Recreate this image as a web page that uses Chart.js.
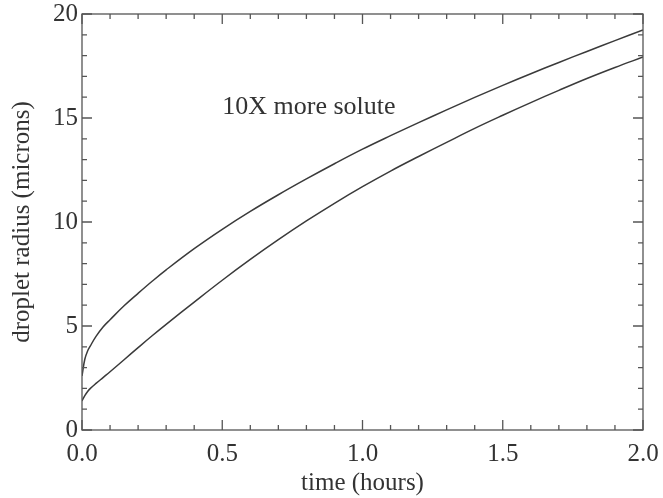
<!DOCTYPE html>
<html>
<head>
<meta charset="utf-8">
<script src="https://cdn.jsdelivr.net/npm/chart.js@4.4.1/dist/chart.umd.min.js"></script>
<style>
  html, body { margin: 0; padding: 0; background: #fff; }
  #wrap { width: 663px; height: 498px; }
</style>
</head>
<body>
<div id="wrap"><canvas id="myChart"></canvas></div>
<script>
// time axis (hours)
const timeHours = [0, 0.01, 0.02, 0.03, 0.05, 0.075, 0.1, 0.15, 0.2, 0.25, 0.3, 0.4, 0.5, 0.6, 0.7, 0.8, 0.9, 1.0,
                   1.1, 1.2, 1.3, 1.4, 1.5, 1.6, 1.7, 1.8, 1.9, 2.0];
// droplet radius (microns)
const moreSolute = [2.6, 3.4, 3.8, 4.05, 4.5, 4.95, 5.3, 5.97, 6.57, 7.15, 7.7, 8.72, 9.65, 10.51, 11.31, 12.07, 12.8, 13.5,
                    14.15, 14.78, 15.39, 15.99, 16.57, 17.13, 17.67, 18.2, 18.72, 19.23];
const baseSolute = [1.4, 1.65, 1.85, 2.0, 2.24, 2.52, 2.8, 3.38, 3.96, 4.53, 5.08, 6.15, 7.2, 8.2, 9.15, 10.05, 10.9, 11.7,
                    12.45, 13.15, 13.83, 14.5, 15.13, 15.74, 16.33, 16.9, 17.43, 17.93];
const xTickLabels = ['0.0', '0.5', '1.0', '1.5', '2.0'];
const yTickLabels = ['0', '5', '10', '15', '20'];
const noteText = '10X more solute';

const ink = '#333';
const serif = '"Liberation Serif", "Times New Roman", serif';

function toPoints(ys) {
    return timeHours.map(function (t, i) { return { x: t, y: ys[i] }; });
}

// ticks pointing into the plot on all four sides, plus the frame and the note
const frameTicks = {
    id: 'frameTicks',
    afterDatasetsDraw(chart) {
        const ctx = chart.ctx;
        const a = chart.chartArea;
        const xs = chart.scales.x, ys = chart.scales.y;
        ctx.save();
        ctx.strokeStyle = '#555';
        ctx.lineWidth = 1.3;
        ctx.strokeRect(a.left, a.top, a.right - a.left, a.bottom - a.top);
        ctx.beginPath();
        for (let i = 0; i <= 20; i++) {
            const v = i / 10;
            const len = (i % 5 === 0) ? 10 : 5;
            const px = xs.getPixelForValue(v);
            ctx.moveTo(px, a.bottom); ctx.lineTo(px, a.bottom - len);
            ctx.moveTo(px, a.top); ctx.lineTo(px, a.top + len);
        }
        for (let i = 0; i <= 20; i++) {
            const len = (i % 5 === 0) ? 10 : 5;
            const py = ys.getPixelForValue(i);
            ctx.moveTo(a.left, py); ctx.lineTo(a.left + len, py);
            ctx.moveTo(a.right, py); ctx.lineTo(a.right - len, py);
        }
        ctx.stroke();

        ctx.fillStyle = ink;
        ctx.font = '26px ' + serif;
        ctx.textAlign = 'left';
        ctx.textBaseline = 'middle';
        ctx.fillText(noteText, xs.getPixelForValue(0.5), ys.getPixelForValue(15.5));
        ctx.restore();
    }
};

const ctx = document.getElementById('myChart');

new Chart(ctx, {
    type: 'line',
    data: {
        datasets: [{
            label: noteText,
            data: toPoints(moreSolute),
            borderColor: '#3a3a3a',
            borderWidth: 1.5,
            pointRadius: 0,
            tension: 0.4
        }, {
            label: 'base',
            data: toPoints(baseSolute),
            borderColor: '#3a3a3a',
            borderWidth: 1.5,
            pointRadius: 0,
            tension: 0.4
        }]
    },
    options: {
        responsive: true,
        maintainAspectRatio: false,
        animation: false,
        layout: { padding: { top: 14, right: 20, left: 0, bottom: 0 } },
        plugins: {
            legend: { display: false },
            tooltip: { enabled: false }
        },
        scales: {
            x: {
                type: 'linear',
                min: 0, max: 2,
                afterFit: function (scale) {
                    scale.height = 68;
                    scale.paddingLeft = 0;
                    scale.paddingRight = 0;
                },
                afterBuildTicks: function (scale) {
                    scale.ticks = xTickLabels.map(function (s) { return { value: parseFloat(s) }; });
                },
                ticks: {
                    color: ink,
                    font: { family: serif, size: 25 },
                    padding: 9,
                    maxRotation: 0,
                    callback: function (v, i) { return xTickLabels[i]; }
                },
                grid: { display: false, drawTicks: false },
                border: { display: false },
                title: {
                    display: true,
                    text: 'time (hours)',
                    color: ink,
                    font: { family: serif, size: 25 },
                    padding: { top: 0, bottom: 0 }
                }
            },
            y: {
                min: 0, max: 20,
                afterFit: function (scale) {
                    scale.width = 82;
                    scale.paddingTop = 0;
                    scale.paddingBottom = 0;
                },
                afterBuildTicks: function (scale) {
                    scale.ticks = yTickLabels.map(function (s) { return { value: parseFloat(s) }; });
                },
                ticks: {
                    color: ink,
                    font: { family: serif, size: 25 },
                    padding: 4,
                    callback: function (v, i) { return yTickLabels[i]; }
                },
                grid: { display: false, drawTicks: false },
                border: { display: false },
                title: {
                    display: true,
                    text: 'droplet radius (microns)',
                    color: ink,
                    font: { family: serif, size: 25 },
                    padding: { top: 7, bottom: 0 }
                }
            }
        }
    },
    plugins: [frameTicks]
});
</script>
</body>
</html>
